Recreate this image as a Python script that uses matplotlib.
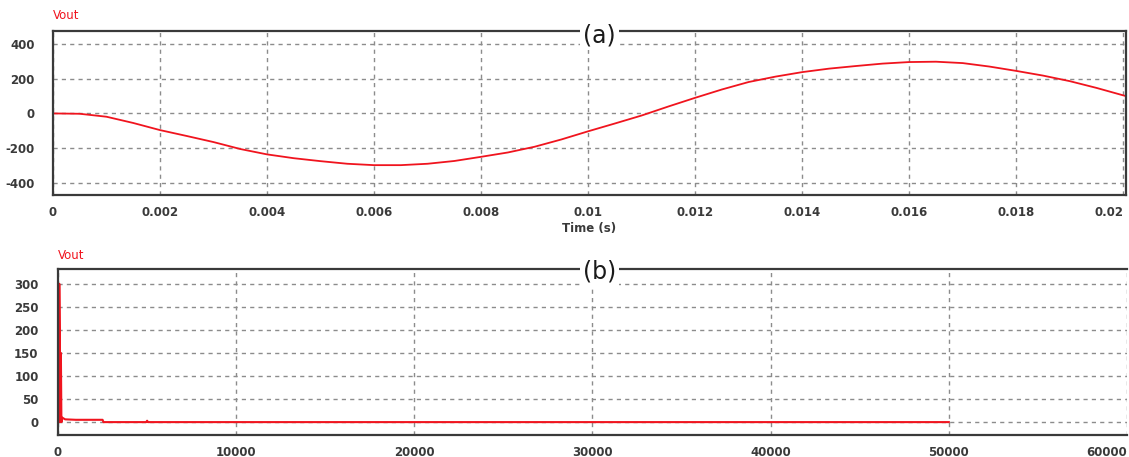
import matplotlib.pyplot as plt

plt.rcParams['axes.unicode_minus'] = False

# (a) output voltage over one cycle
t_a = [0, 0.0005, 0.001, 0.0015, 0.002, 0.0025, 0.003, 0.0035, 0.004, 0.0045,
       0.005, 0.0055, 0.006, 0.0065, 0.007, 0.0075, 0.008, 0.0085, 0.009, 0.0095,
       0.01, 0.0105, 0.011, 0.0115, 0.012, 0.0125, 0.013, 0.0135, 0.014, 0.0145,
       0.015, 0.0155, 0.016, 0.0165, 0.017, 0.0175, 0.018, 0.0185, 0.019, 0.0195,
       0.02, 0.02005]
v_a = [0, -2, -19, -55, -96, -130, -165, -205, -236, -258,
       -275, -290, -298, -298, -290, -274, -250, -225, -192, -150,
       -103, -58, -12, 40, 90, 138, 181, 212, 238, 258,
       273, 287, 296, 298, 290, 270, 245, 218, 186, 147,
       104, 100]

# (b) output voltage over the long run
x_b = [0, 70, 70, 100, 130, 160, 190, 220, 400, 1000, 2500, 2550, 4950, 5000, 5050, 50000]
v_b = [0, 0, 300, 150, 0, 150, 0, 10, 6, 5, 5, 0, 0, 3, 0, 0]

ticks_a = [0, 0.002, 0.004, 0.006, 0.008, 0.01, 0.012, 0.014, 0.016, 0.018, 0.02]
ticklabels_a = ['0', '0.002', '0.004', '0.006', '0.008', '0.01', '0.012', '0.014', '0.016', '0.018', '0.02']
yticks_a = [-400, -200, 0, 200, 400]
ticks_b = [0, 10000, 20000, 30000, 40000, 50000, 60000]
ticklabels_b = ['0', '10000', '20000', '30000', '40000', '50000', '60000']
yticks_b = [0, 50, 100, 150, 200, 250, 300]

red = '#f0141e'
frame = '#3a3a3a'
txt = '#3a3a3a'

fig = plt.figure(figsize=(11.29, 4.57), dpi=100)
ax1 = fig.add_axes([0.0469, 0.5733, 0.9504, 0.3589])
ax2 = fig.add_axes([0.0514, 0.0481, 0.9468, 0.3632])

for ax in (ax1, ax2):
    ax.grid(True, color='#8c8c8c', linestyle=(0, (3, 3)), linewidth=1.0)
    for s in ax.spines.values():
        s.set_color(frame)
        s.set_linewidth(1.6)
    ax.tick_params(length=0, labelsize=8.5, labelcolor=txt)

ax1.plot(t_a, v_a, color=red, linewidth=1.3)
ax1.set_xlim(0, 0.02005)
ax1.set_ylim(-470, 475)
ax1.set_xticks(ticks_a)
lab_a = ax1.set_xticklabels(ticklabels_a, fontweight='bold')
lab_a[-1].set_horizontalalignment('right')
ax1.set_yticks(yticks_a)
ax1.set_yticklabels([str(v) for v in yticks_a], fontweight='bold')
ax1.tick_params(axis='y', pad=13)
ax1.tick_params(axis='x', pad=8)
ax1.set_xlabel('Time (s)', fontsize=8.5, color=txt, labelpad=2, fontweight='bold')

ax2.plot(x_b, v_b, color=red, linewidth=1.5)
ax2.set_xlim(0, 60000)
ax2.set_ylim(-28, 332)
ax2.spines['right'].set_visible(False)
ax2.set_xticks(ticks_b)
lab_b = ax2.set_xticklabels(ticklabels_b, fontweight='bold')
lab_b[-1].set_horizontalalignment('right')
ax2.set_yticks(yticks_b)
ax2.set_yticklabels([str(v) for v in yticks_b], fontweight='bold')
ax2.tick_params(axis='y', pad=14)
ax2.tick_params(axis='x', pad=8)

fig.text(0.047, 0.967, 'Vout', color=red, fontsize=8.5, va='center', ha='left')
fig.text(0.0514, 0.442, 'Vout', color=red, fontsize=8.5, va='center', ha='left')

for y, lab in [(0.923, '(a)'), (0.407, '(b)')]:
    fig.text(0.531, y, lab, fontsize=17, color='#1a1a1a', ha='center', va='center',
             bbox=dict(facecolor='white', edgecolor='none', pad=2))

fig.savefig('out.png', dpi=100)
